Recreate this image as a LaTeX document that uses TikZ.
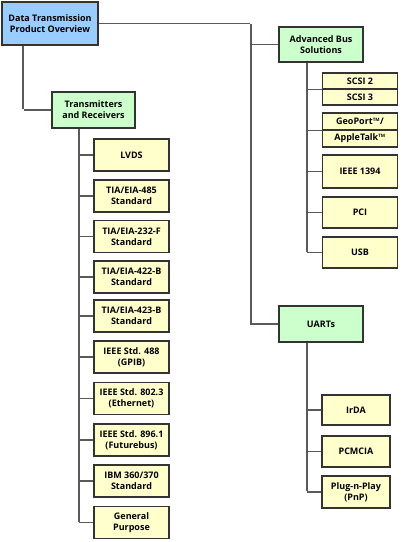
\documentclass[tikz,border=0pt]{standalone}
\usepackage{fontspec}
\setmainfont{Open Sans}
\usepackage{tikz}
\pgfdeclarelayer{edgelayer}
\pgfdeclarelayer{nodelayer}
\pgfsetlayers{edgelayer,nodelayer,main}
\tikzstyle{none}=[inner sep=0pt]
\tikzstyle{box_text}=[font=\bfseries\fontsize{9}{11}\selectfont, align=center, text=black, inner sep=0pt, line width=1.2pt, shape=rectangle]
\tikzstyle{overview_box}=[box_text, fill={rgb,255: red,153; green,204; blue,255}, draw={rgb,255: red,51; green,51; blue,51}, minimum width=96, minimum height=43]
\tikzstyle{group_box}=[box_text, fill={rgb,255: red,204; green,255; blue,204}, draw={rgb,255: red,51; green,51; blue,51}, minimum width=84, minimum height=36]
\tikzstyle{item_box}=[box_text, fill={rgb,255: red,255; green,255; blue,204}, draw={rgb,255: red,51; green,51; blue,51}, minimum width=75, minimum height=32]
\tikzstyle{main_connector}=[-, line width=1.2pt, draw={rgb,255: red,90; green,90; blue,90}]

\begin{document}
\begin{tikzpicture}[x=1pt, y=-1pt]
    \useasboundingbox (0, 0) rectangle (400, 542);
    \begin{pgfonlayer}{nodelayer}
        % root
        \node [style={overview_box}] (0) at (50, 23.5) {Data Transmission\\Product Overview};

        % transmitters and receivers
        \node [style={group_box}, minimum width=83] (1) at (93.5, 110) {Transmitters\\and Receivers};
        \node [style={item_box}] (10) at (131.5, 155) {LVDS};
        \node [style={item_box}] (11) at (131.5, 196) {TIA/EIA-485\\Standard};
        \node [style={item_box}] (12) at (131.5, 236.5) {TIA/EIA-232-F\\Standard};
        \node [style={item_box}] (13) at (131.5, 277) {TIA/EIA-422-B\\Standard};
        \node [style={item_box}] (14) at (131.5, 316) {TIA/EIA-423-B\\Standard};
        \node [style={item_box}] (15) at (131.5, 357) {IEEE Std. 488\\(GPIB)};
        \node [style={item_box}] (16) at (131.5, 398.5) {IEEE Std. 802.3\\(Ethernet)};
        \node [style={item_box}] (17) at (131.5, 440) {IEEE Std. 896.1\\(Futurebus)};
        \node [style={item_box}] (18) at (131.5, 481) {IBM 360/370\\Standard};
        \node [style={item_box}] (19) at (131.5, 522.5) {General\\Purpose};

        % advanced bus solutions
        \node [style={group_box}, minimum height=35] (2) at (321, 44.5) {Advanced Bus\\Solutions};
        \node [style={item_box}, minimum height=16] (20) at (360, 81) {SCSI 2};
        \node [style={item_box}, minimum height=16] (21) at (360, 97) {SCSI 3};
        \node [style={item_box}, minimum height=17] (22) at (360, 121.5) {GeoPort\textsuperscript{\fontsize{4.5}{5}\selectfont TM}/};
        \node [style={item_box}, minimum height=17] (23) at (360, 138.5) {AppleTalk\textsuperscript{\fontsize{4.5}{5}\selectfont TM}};
        \node [style={item_box}, minimum height=33] (24) at (360, 171.5) {IEEE 1394};
        \node [style={item_box}, minimum height=31] (25) at (360, 212.5) {PCI};
        \node [style={item_box}, minimum height=31] (26) at (360, 252.5) {USB};

        % uarts
        \node [style={group_box}] (3) at (321, 324) {UARTs};
        \node [style={item_box}, minimum width=68, minimum height=30] (30) at (356, 410) {IrDA};
        \node [style={item_box}, minimum width=68, minimum height=31] (31) at (356, 451.5) {PCMCIA};
        \node [style={item_box}, minimum width=68] (32) at (356, 492) {Plug-n-Play\\(PnP)};

        % docking points for the elbows
        \node [style=none] (100) at (251, 23.5) {};
        \node [style=none] (101) at (23, 45) {};
        \node [style=none] (102) at (23, 110) {};
        \node [style=none] (103) at (79, 128) {};
        \node [style=none] (104) at (79, 522.5) {};
        \node [style=none] (105) at (307, 62) {};
        \node [style=none] (106) at (307, 252.5) {};
        \node [style=none] (107) at (307, 342) {};
        \node [style=none] (108) at (307, 492) {};
    \end{pgfonlayer}
    \begin{pgfonlayer}{edgelayer}
        \draw [style={main_connector}] (0.east) to (100);
        \draw [style={main_connector}] (100) |- (2.west);
        \draw [style={main_connector}] (100) |- (3.west);
        \draw [style={main_connector}] (101) to (102);
        \draw [style={main_connector}] (102) to (1.west);

        \draw [style={main_connector}] (103) to (104);
        \draw [style={main_connector}] (10.west -| 103) to (10.west);
        \draw [style={main_connector}] (11.west -| 103) to (11.west);
        \draw [style={main_connector}] (12.west -| 103) to (12.west);
        \draw [style={main_connector}] (13.west -| 103) to (13.west);
        \draw [style={main_connector}] (14.west -| 103) to (14.west);
        \draw [style={main_connector}] (15.west -| 103) to (15.west);
        \draw [style={main_connector}] (16.west -| 103) to (16.west);
        \draw [style={main_connector}] (17.west -| 103) to (17.west);
        \draw [style={main_connector}] (18.west -| 103) to (18.west);
        \draw [style={main_connector}] (19.west -| 103) to (19.west);

        \draw [style={main_connector}] (105) to (106);
        \draw [style={main_connector}] (20.south west -| 105) to (20.south west);
        \draw [style={main_connector}] (22.south west -| 105) to (22.south west);
        \draw [style={main_connector}] (24.west -| 105) to (24.west);
        \draw [style={main_connector}] (25.west -| 105) to (25.west);
        \draw [style={main_connector}] (26.west -| 105) to (26.west);

        \draw [style={main_connector}] (107) to (108);
        \draw [style={main_connector}] (30.west -| 107) to (30.west);
        \draw [style={main_connector}] (31.west -| 107) to (31.west);
        \draw [style={main_connector}] (32.west -| 107) to (32.west);
    \end{pgfonlayer}
\end{tikzpicture}
\end{document}
